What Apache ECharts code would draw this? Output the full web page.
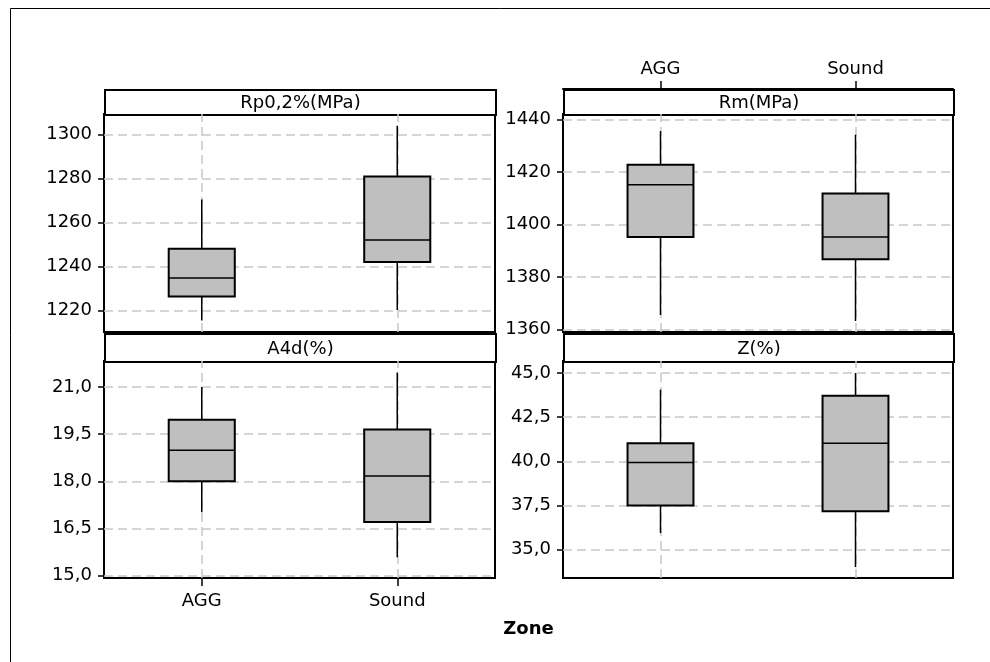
<!DOCTYPE html>
<html>
<head>
<meta charset="utf-8">
<title>Zone boxplots</title>
<script src="https://cdn.jsdelivr.net/npm/echarts@6/dist/echarts.min.js"></script>
<style>
html, body { margin: 0; padding: 0; background: #fff; }
#chart { width: 990px; height: 662px; }
</style>
</head>
<body>
<div id="chart"></div>
<script>
// categories
const zones = ['AGG', 'Sound']

// box values: [min, Q1, median, Q3, max]
const rpAgg = [1215.5, 1226.4, 1234.8, 1248.2, 1270.5]
const rpSound = [1220.3, 1242.1, 1252.1, 1281.0, 1304.1]
const rmAgg = [1365.5, 1395.2, 1415.1, 1422.8, 1435.6]
const rmSound = [1363.2, 1386.7, 1395.2, 1411.8, 1434.2]
const a4dAgg = [17.01, 18.0, 18.99, 19.96, 21.0]
const a4dSound = [15.58, 16.7, 18.17, 19.65, 21.46]
const zAgg = [35.94, 37.5, 39.93, 41.02, 44.06]
const zSound = [34.02, 37.18, 41.02, 43.72, 45.0]

// tick labels
const rpTicks = [1220, 1240, 1260, 1280, 1300]
const rmTicks = [1360, 1380, 1400, 1420, 1440]
const a4dTicks = [15, 16.5, 18, 19.5, 21]
const zTicks = [35, 37.5, 40, 42.5, 45]

const FONT = 'DejaVu Sans'
const GRID_COLOR = '#c8c8c8'

// panel layout (plot areas and strip headers)
const panels = [
    { title: 'Rp0,2%(MPa)', left: 104, top: 114, width: 391, height: 218, stripH: 25,
      min: 1210.3, max: 1309.4, ticks: rpTicks, dec: 0, boxes: [rpAgg, rpSound], xAxisAt: null },
    { title: 'Rm(MPa)', left: 563, top: 114, width: 390, height: 218, stripH: 25,
      min: 1359.0, max: 1442.1, ticks: rmTicks, dec: 0, boxes: [rmAgg, rmSound], xAxisAt: 'top' },
    { title: 'A4d(%)', left: 104, top: 361, width: 391, height: 217, stripH: 28,
      min: 14.92, max: 21.83, ticks: a4dTicks, dec: 1, boxes: [a4dAgg, a4dSound], xAxisAt: 'bottom' },
    { title: 'Z(%)', left: 563, top: 361, width: 390, height: 217, stripH: 28,
      min: 33.4, max: 45.68, ticks: zTicks, dec: 1, boxes: [zAgg, zSound], xAxisAt: null }
]

// draws one box with whiskers (no caps)
const renderBox = (params, api) => {
    const x = api.value(0)
    const lo = api.coord([x, api.value(1)])
    const q1 = api.coord([x, api.value(2)])
    const med = api.coord([x, api.value(3)])
    const q3 = api.coord([x, api.value(4)])
    const hi = api.coord([x, api.value(5)])
    const halfW = api.size([1, 0])[0] * 0.169
    const cx = lo[0]
    const stroke = { stroke: '#000', lineWidth: 1.5 }
    return {
        type: 'group',
        children: [
            { type: 'line', shape: { x1: cx, y1: hi[1], x2: cx, y2: q3[1] }, style: stroke },
            { type: 'line', shape: { x1: cx, y1: q1[1], x2: cx, y2: lo[1] }, style: stroke },
            { type: 'rect', shape: { x: cx - halfW, y: q3[1], width: halfW * 2, height: q1[1] - q3[1] },
              style: { fill: '#bfbfbf', stroke: '#000', lineWidth: 2 } },
            { type: 'line', shape: { x1: cx - halfW, y1: med[1], x2: cx + halfW, y2: med[1] }, style: stroke }
        ]
    }
}

const grid = []
const xAxis = []
const yAxis = []
const series = []
const graphic = []

panels.forEach((p, i) => {
    grid.push({
        left: p.left, top: p.top, width: p.width, height: p.height,
        show: true, borderColor: '#000', borderWidth: 2, backgroundColor: 'transparent'
    })

    const hasLabels = p.xAxisAt !== null
    xAxis.push({
        type: 'category',
        data: zones,
        gridIndex: i,
        position: p.xAxisAt === 'top' ? 'top' : 'bottom',
        offset: p.xAxisAt === 'top' ? p.stripH : 0,
        axisLine: { show: true, lineStyle: { color: '#000', width: 2 } },
        axisTick: { show: hasLabels, alignWithLabel: true, length: 8, lineStyle: { color: '#000', width: 1.5 } },
        axisLabel: { show: hasLabels, fontFamily: FONT, fontSize: 18, color: '#000', margin: p.xAxisAt === 'top' ? 11 : 14 },
        splitLine: { show: false }
    })

    yAxis.push({
        type: 'value',
        gridIndex: i,
        min: p.min,
        max: p.max,
        axisLine: { show: true, lineStyle: { color: '#000', width: 2 } },
        axisTick: { show: true, length: 6, customValues: p.ticks, lineStyle: { color: '#000', width: 1.5 } },
        axisLabel: {
            customValues: p.ticks,
            fontFamily: FONT, fontSize: 18, color: '#000', margin: 12,
            formatter: v => v.toFixed(p.dec).replace('.', ',')
        },
        splitLine: { show: false }
    })

    // dashed reference lines at ticks and categories, kept under the boxes
    series.push({
        type: 'line',
        xAxisIndex: i,
        yAxisIndex: i,
        data: [],
        z: 1,
        silent: true,
        markLine: {
            silent: true,
            z: 1,
            symbol: 'none',
            animation: false,
            label: { show: false },
            lineStyle: { color: GRID_COLOR, type: [9, 5], width: 1.5 },
            data: p.ticks.map(v => ({ yAxis: v })).concat(zones.map(z => ({ xAxis: z })))
        }
    })

    series.push({
        type: 'custom',
        xAxisIndex: i,
        yAxisIndex: i,
        z: 4,
        renderItem: renderBox,
        encode: { x: 0, y: [1, 2, 3, 4, 5] },
        data: p.boxes.map((b, k) => [k].concat(b))
    })

    // strip header
    graphic.push({
        type: 'group',
        left: p.left,
        top: p.top - p.stripH,
        z: 10,
        children: [
            { type: 'rect', shape: { x: 0, y: 0, width: p.width, height: p.stripH },
              style: { fill: '#fff', stroke: '#000', lineWidth: 2 } },
            { type: 'text', x: p.width / 2, y: p.stripH / 2 + 1,
              style: { text: p.title, font: '18px "DejaVu Sans"', fill: '#000', align: 'center', verticalAlign: 'middle' } }
        ]
    })
})

// outer frame (top and left edges only)
graphic.push({ type: 'line', shape: { x1: 10.5, y1: 8.5, x2: 990, y2: 8.5 }, style: { stroke: '#000', lineWidth: 1 } })
graphic.push({ type: 'line', shape: { x1: 10.5, y1: 8.5, x2: 10.5, y2: 662 }, style: { stroke: '#000', lineWidth: 1 } })

// shared x title
graphic.push({
    type: 'text', x: 528.5, y: 629,
    style: { text: 'Zone', font: 'bold 18px "DejaVu Sans"', fill: '#000', align: 'center', verticalAlign: 'middle' }
})

const chart = echarts.init(document.getElementById('chart'))
chart.setOption({
    animation: false,
    backgroundColor: '#fff',
    grid,
    xAxis,
    yAxis,
    series,
    graphic
})
</script>
</body>
</html>
